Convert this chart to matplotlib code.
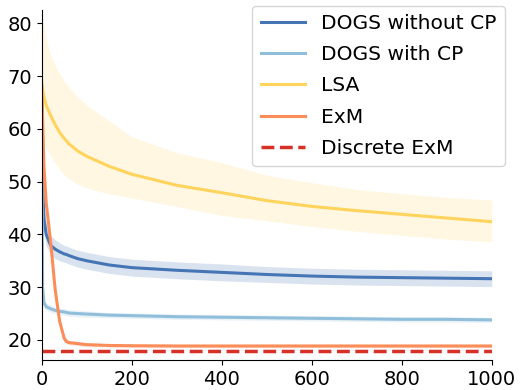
import numpy as np
import matplotlib
matplotlib.use("Agg")
import matplotlib.pyplot as plt

steps = [0, 2, 5, 10, 20, 30, 40, 50, 55, 60, 80, 100, 150, 200,
         300, 400, 500, 600, 700, 800, 900, 1000]

dogs_no_cp = [68.0, 50.0, 43.0, 40.0, 37.9, 37.2, 36.7, 36.3, 36.2, 36.0, 35.4,
              35.0, 34.2, 33.7, 33.2, 32.8, 32.4, 32.1, 31.9, 31.8, 31.7, 31.6]
dogs_no_cp_sd = [3.0, 3.0, 2.5, 2.2, 1.8, 1.8, 1.7, 1.6, 1.6, 1.6, 1.6,
                 1.6, 1.6, 1.6, 1.6, 1.6, 1.5, 1.5, 1.5, 1.5, 1.5, 1.5]

dogs_cp = [68.0, 30.0, 27.0, 26.3, 25.9, 25.6, 25.4, 25.3, 25.2, 25.1, 25.0,
           24.9, 24.7, 24.6, 24.4, 24.3, 24.2, 24.1, 24.0, 23.9, 23.9, 23.8]
dogs_cp_sd = [0.8, 0.8, 0.8, 0.7, 0.7, 0.6, 0.6, 0.6, 0.6, 0.6, 0.6,
              0.6, 0.5, 0.5, 0.5, 0.5, 0.5, 0.5, 0.5, 0.5, 0.5, 0.5]

lsa = [69.0, 67.5, 66.0, 64.5, 62.5, 60.8, 59.3, 58.2, 57.7, 57.2, 55.8,
       54.8, 52.9, 51.4, 49.3, 47.9, 46.4, 45.3, 44.5, 43.8, 43.1, 42.4]
lsa_hi = [82.0, 81.0, 79.5, 77.0, 74.0, 72.0, 70.5, 69.0, 68.5, 68.0, 66.0,
          64.5, 61.5, 58.5, 55.5, 53.6, 51.2, 49.8, 48.5, 47.7, 47.0, 46.5]
lsa_lo = [58.0, 57.5, 57.0, 56.5, 55.0, 53.5, 52.3, 51.3, 50.9, 50.6, 49.5,
          48.8, 47.7, 46.9, 45.3, 43.6, 42.6, 41.5, 40.6, 39.8, 39.1, 38.6]

exm = [68.0, 62.0, 53.0, 46.0, 38.5, 29.5, 23.5, 20.3, 19.7, 19.5, 19.3,
       19.1, 18.95, 18.9, 18.85, 18.85, 18.85, 18.85, 18.85, 18.85, 18.85, 18.85]
exm_sd = [0.5, 0.5, 0.6, 0.6, 0.7, 0.7, 0.7, 0.6, 0.5, 0.4, 0.4,
          0.4, 0.3, 0.3, 0.3, 0.3, 0.3, 0.3, 0.3, 0.3, 0.3, 0.3]

discrete_exm = 17.9

x = np.array(steps)

fig = plt.figure(figsize=(5.21, 3.9), dpi=100)
ax = fig.add_axes([0.08, 0.077, 0.864, 0.897])

c_dark = "#4575b4"
c_light = "#91bfdb"
c_yel = "#ffd35c"
c_org = "#fc8d59"
c_red = "#d73027"

m = np.array(dogs_no_cp); s = np.array(dogs_no_cp_sd)
ax.fill_between(x, m - s, m + s, color=c_dark, alpha=0.2, lw=0)
ax.plot(x, m, color=c_dark, lw=2.2, label="DOGS without CP")

m = np.array(dogs_cp); s = np.array(dogs_cp_sd)
ax.fill_between(x, m - s, m + s, color=c_light, alpha=0.2, lw=0)
ax.plot(x, m, color=c_light, lw=2.2, label="DOGS with CP")

ax.fill_between(x, lsa_lo, lsa_hi, color=c_yel, alpha=0.18, lw=0)
ax.plot(x, lsa, color=c_yel, lw=2.2, label="LSA")

m = np.array(exm); s = np.array(exm_sd)
ax.fill_between(x, m - s, m + s, color=c_org, alpha=0.2, lw=0)
ax.plot(x, m, color=c_org, lw=2.2, label="ExM")

ax.plot([0, 1000], [discrete_exm, discrete_exm], color=c_red, lw=2.5,
        ls="--", label="Discrete ExM")

ax.set_xlim(0, 1000)
ax.set_ylim(16.2, 82.5)
ax.set_xticks(range(0, 1001, 200))
ax.set_yticks(range(20, 81, 10))
ax.tick_params(labelsize=14)
ax.spines["top"].set_visible(False)
ax.spines["right"].set_visible(False)

ax.legend(loc="upper right", bbox_to_anchor=(505 / 521, 1 - 6 / 390),
          bbox_transform=fig.transFigure, borderaxespad=0,
          fontsize=14.6, handlelength=2.2, labelspacing=0.6)

fig.savefig("out.png", dpi=100)
